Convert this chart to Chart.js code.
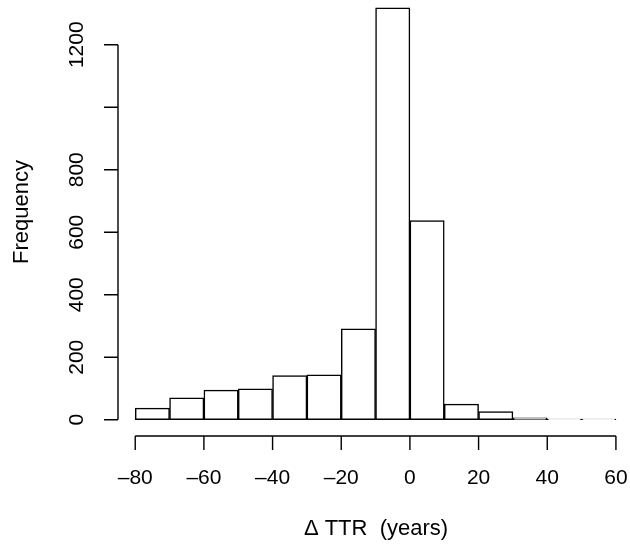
<!DOCTYPE html>
<html>
<head>
<meta charset="utf-8">
<script src="https://cdn.jsdelivr.net/npm/chart.js@4.4.0/dist/chart.umd.min.js"></script>
<style>
  html, body { margin: 0; padding: 0; background: #fff; }
  #wrap { width: 630px; height: 549px; }
</style>
</head>
<body>
<div id="wrap"><canvas id="histChart" width="630" height="549"></canvas></div>
<script>
// Histogram bins (left edges, width 10) and counts
const binStarts = [-80, -70, -60, -50, -40, -30, -20, -10, 0, 10, 20, 30, 40, 50];
const binWidth = 10;
const counts = [37, 70, 95, 99, 141, 144, 291, 1318, 637, 50, 26, 6, 2, 2];

const xTicks = [-80, -60, -40, -20, 0, 20, 40, 60];
const yTicks = [0, 200, 400, 600, 800, 1000, 1200];
const yLabels = ["0", "200", "400", "600", "800", "", "1200"];

const xTitle = "\u0394 TTR  (years)";
const yTitle = "Frequency";

const FONT = "'Liberation Sans', Arial, Helvetica, sans-serif";

// R style axes: lines only span the tick range, offset from the bars
const rAxes = {
  id: "rAxes",
  afterDraw(chart) {
    const ctx = chart.ctx;
    const xs = chart.scales.x, ys = chart.scales.y;
    const area = chart.chartArea;
    const tick = 14;
    ctx.save();
    ctx.strokeStyle = "#000";
    ctx.fillStyle = "#000";
    ctx.lineWidth = 1.4;

    // x axis
    const ay = area.bottom;
    ctx.beginPath();
    ctx.moveTo(xs.getPixelForValue(xTicks[0]), ay);
    ctx.lineTo(xs.getPixelForValue(xTicks[xTicks.length - 1]), ay);
    xTicks.forEach(v => {
      const px = xs.getPixelForValue(v);
      ctx.moveTo(px, ay);
      ctx.lineTo(px, ay + tick);
    });
    ctx.stroke();
    ctx.font = "21px " + FONT;
    ctx.textAlign = "center";
    ctx.textBaseline = "alphabetic";
    xTicks.forEach(v => {
      const s = v < 0 ? "\u2013" + Math.abs(v) : String(v);
      ctx.fillText(s, xs.getPixelForValue(v), 484);
    });

    // y axis
    const ax = area.left + 2;
    ctx.beginPath();
    ctx.moveTo(ax, ys.getPixelForValue(yTicks[0]));
    ctx.lineTo(ax, ys.getPixelForValue(yTicks[yTicks.length - 1]));
    yTicks.forEach(v => {
      const py = ys.getPixelForValue(v);
      ctx.moveTo(ax, py);
      ctx.lineTo(ax - tick, py);
    });
    ctx.stroke();
    yTicks.forEach((v, i) => {
      if (!yLabels[i]) return;
      ctx.save();
      ctx.translate(83, ys.getPixelForValue(v));
      ctx.rotate(-Math.PI / 2);
      ctx.fillText(yLabels[i], 0, 0);
      ctx.restore();
    });

    // titles
    ctx.font = "22px " + FONT;
    ctx.fillText(xTitle, 376, 535);
    ctx.save();
    ctx.translate(28, 212);
    ctx.rotate(-Math.PI / 2);
    ctx.fillText(yTitle, 0, 0);
    ctx.restore();
    ctx.restore();
  }
};

const ctx = document.getElementById("histChart").getContext("2d");
new Chart(ctx, {
  type: "bar",
  data: {
    datasets: [{
      data: binStarts.map((s, i) => ({ x: s + binWidth / 2, y: counts[i] })),
      backgroundColor: "#fff",
      borderColor: "#000",
      borderWidth: 1.5,
      borderSkipped: false,
      barPercentage: 1,
      categoryPercentage: 1
    }]
  },
  options: {
    responsive: false,
    animation: false,
    layout: { padding: { left: 116, right: 0, top: 0, bottom: 113 } },
    plugins: {
      legend: { display: false },
      tooltip: { enabled: false }
    },
    scales: {
      x: { type: "linear", offset: false, min: -85.6, max: 64.1, display: false },
      y: { type: "linear", min: -52, max: 1343.2, display: false }
    }
  },
  plugins: [rAxes]
});
</script>
</body>
</html>
